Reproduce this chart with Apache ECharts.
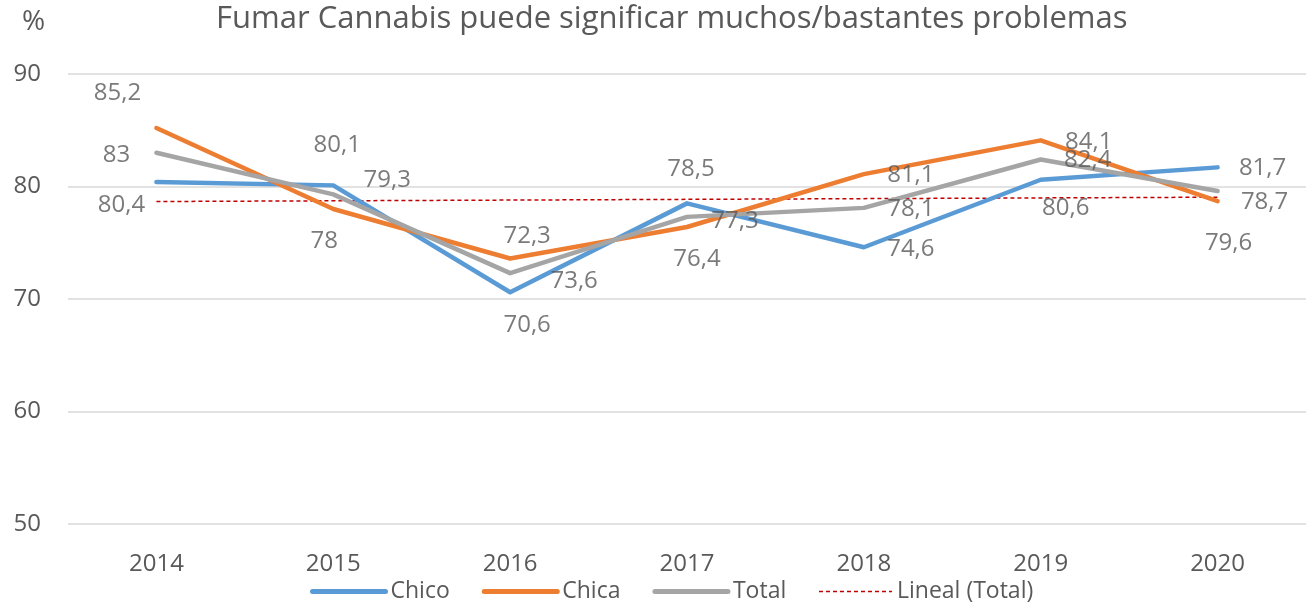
<!DOCTYPE html>
<html>
<head>
<meta charset="utf-8">
<script src="https://cdn.jsdelivr.net/npm/echarts@6/dist/echarts.min.js"></script>
<style>
html, body { margin: 0; padding: 0; background: #fff; }
#chart { width: 1306px; height: 604px; }
</style>
</head>
<body>
<div id="chart"></div>
<script>
// datos
var years = ['2014', '2015', '2016', '2017', '2018', '2019', '2020'];
var chicoValues = [80.4, 80.1, 70.6, 78.5, 74.6, 80.6, 81.7];
var chicaValues = [85.2, 78, 73.6, 76.4, 81.1, 84.1, 78.7];
var totalValues = [83, 79.3, 72.3, 77.3, 78.1, 82.4, 79.6];
var yTicks = [50, 60, 70, 80, 90];

// desplazamiento de cada etiqueta respecto a su punto (px)
var chicoLabelOffsets = [[-35, 23], [4, -40], [17, 33], [4, -34], [47, 2], [25, 28], [45, 1]];
var chicaLabelOffsets = [[-39, -35], [-9, 32], [64, 23], [10, 32], [47, 1], [48, 2], [47, 1]];
var totalLabelOffsets = [[-40, 2], [54, -14], [17, -37], [48, 4], [47, 1], [47, 1], [11, 52]];

var textColor = '#595959';
var fontFamily = '"Open Sans", "Noto Sans", sans-serif';

// tendencia lineal (minimos cuadrados) sobre Total, como la de Excel
function linearTrend(values) {
    var n = values.length, sx = 0, sy = 0, sxy = 0, sxx = 0;
    for (var i = 0; i < n; i++) {
        sx += i; sy += values[i]; sxy += i * values[i]; sxx += i * i;
    }
    var b = (n * sxy - sx * sy) / (n * sxx - sx * sx);
    var a = (sy - b * sx) / n;
    return values.map(function (v, i) { return +(a + b * i).toFixed(3); });
}
var trendValues = linearTrend(totalValues);

function fmt(v) {
    return String(v).replace('.', ',');
}

function labelSeries(name, values, offsets) {
    return {
        name: name + '-etiquetas',
        type: 'scatter',
        symbolSize: 0,
        silent: true,
        z: 5,
        data: values.map(function (v, i) {
            return {
                value: v,
                label: { offset: offsets[i] }
            };
        }),
        label: {
            show: true,
            position: 'inside',
            align: 'center',
            verticalAlign: 'middle',
            color: textColor,
            fontFamily: fontFamily,
            fontSize: 24,
            formatter: function (p) { return fmt(p.value); }
        }
    };
}

function lineSeries(name, values, color) {
    return {
        name: name,
        type: 'line',
        symbol: 'none',
        data: values,
        lineStyle: { color: color, width: 4.5, cap: 'round', join: 'round' },
        itemStyle: { color: color },
        z: 2
    };
}

var chart = echarts.init(document.getElementById('chart'));
chart.setOption({
    backgroundColor: '#fff',
    animation: false,
    title: [
        {
            text: 'Fumar Cannabis puede significar muchos/bastantes problemas',
            left: 211,
            top: -1,
            textStyle: { color: textColor, fontFamily: fontFamily, fontSize: 31, fontWeight: 'normal' }
        },
        {
            text: '%',
            left: 17,
            top: 3,
            textStyle: { color: textColor, fontFamily: fontFamily, fontSize: 28, fontWeight: 'normal' }
        }
    ],
    legend: {
        data: [
            { name: 'Chico', lineStyle: { width: 5, cap: 'round' }, itemStyle: { opacity: 0 } },
            { name: 'Chica', lineStyle: { width: 5, cap: 'round' }, itemStyle: { opacity: 0 } },
            { name: 'Total', lineStyle: { width: 5, cap: 'round' }, itemStyle: { opacity: 0 } },
            { name: 'Lineal (Total)', lineStyle: { width: 1.5 }, itemStyle: { opacity: 0 } }
        ],
        left: 310,
        top: 580,
        itemWidth: 73,
        itemHeight: 2,
        itemGap: 32,
        padding: 0,
        textStyle: { color: textColor, fontFamily: fontFamily, fontSize: 23 }
    },
    grid: {
        left: 68,
        top: 74,
        width: 1249,
        height: 450
    },
    xAxis: {
        type: 'category',
        data: years,
        boundaryGap: true,
        axisLine: { show: false },
        axisTick: { show: false },
        axisLabel: { color: textColor, fontFamily: fontFamily, fontSize: 24, margin: 28 }
    },
    yAxis: {
        type: 'value',
        min: yTicks[0],
        max: yTicks[yTicks.length - 1],
        interval: 10,
        axisLine: { show: false },
        axisTick: { show: false },
        axisLabel: { color: textColor, fontFamily: fontFamily, fontSize: 24, margin: 27 },
        splitLine: { lineStyle: { color: '#D9D9D9', width: 1.5 } }
    },
    series: [
        lineSeries('Chico', chicoValues, '#5B9BD5'),
        lineSeries('Chica', chicaValues, '#ED7D31'),
        lineSeries('Total', totalValues, '#A5A5A5'),
        {
            name: 'Lineal (Total)',
            type: 'line',
            symbol: 'none',
            data: trendValues,
            lineStyle: { color: '#C00000', width: 1.5, type: [4, 3] },
            itemStyle: { color: '#C00000' },
            z: 1
        },
        labelSeries('Chico', chicoValues, chicoLabelOffsets),
        labelSeries('Chica', chicaValues, chicaLabelOffsets),
        labelSeries('Total', totalValues, totalLabelOffsets)
    ]
});
</script>
</body>
</html>
